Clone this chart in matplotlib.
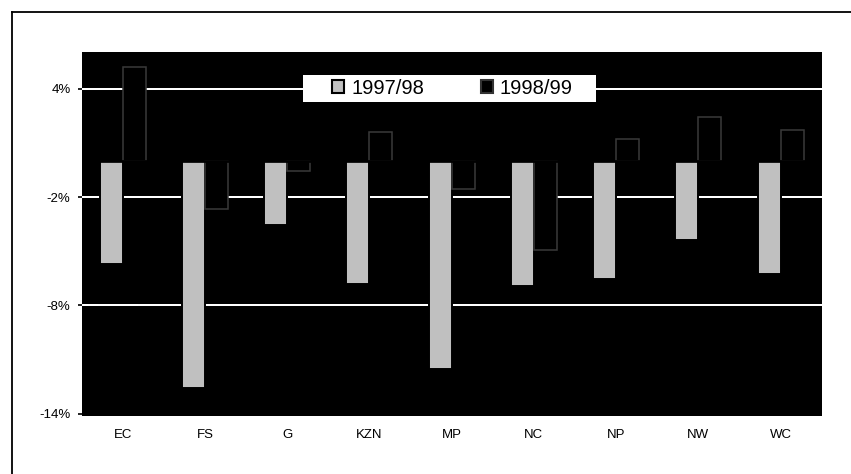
import numpy as np
import matplotlib.pyplot as plt
from matplotlib.patches import Patch, Rectangle
from matplotlib.lines import Line2D

plt.rcParams['font.family'] = ['Liberation Sans', 'DejaVu Sans']

################# Data
provinces = ["EC", "FS", "G", "KZN", "MP", "NC", "NP", "NW", "WC"]
growth_9798 = [-5.7, -12.55, -3.55, -6.8, -11.55, -6.9, -6.55, -4.35, -6.25]
growth_9899 = [5.2, -2.65, -0.55, 1.6, -1.55, -4.95, 1.2, 2.45, 1.7]
yticks = [-14, -8, -2, 4]
ytick_labels = ["-14%", "-8%", "-2%", "4%"]
series_names = ["1997/98", "1998/99"]

x = np.arange(len(provinces))
w = 0.28

fig = plt.figure(figsize=(8.51, 4.74), dpi=100)
ax = fig.add_axes([81.7/851, 1-415.5/474, 740/851, 363.8/474])
ax.set_facecolor("black")

# white gridlines behind the bars
for yv in yticks[1:]:
    ax.axhline(yv, color="white", lw=1.45, zorder=1)

ax.bar(x - w/2, growth_9798, w, color="#c0c0c0", edgecolor="black", lw=1.4, zorder=2)
ax.bar(x + w/2, growth_9899, w, color="black", edgecolor="#3a3a3a", lw=1.1, zorder=2)
# category axis crossing at zero (black on black)
ax.axhline(0, color="black", lw=1.95, zorder=3)

ax.set_xlim(-0.5, len(provinces) - 0.5)
ax.set_ylim(-14.1, 6.06)
ax.set_yticks(yticks)
ax.set_yticklabels(ytick_labels)
ax.set_xticks(x)
ax.set_xticklabels(provinces)
ax.tick_params(axis="y", length=3, width=1.2, pad=5, labelsize=9.5, colors="black")
ax.tick_params(axis="x", length=0, pad=10, labelsize=9.5)
for s in ax.spines.values():
    s.set_visible(False)

# legend on a white box
ax.add_patch(Rectangle((0.2986, 0.8625), 0.3964, 0.0735, transform=ax.transAxes,
                       facecolor="white", edgecolor="none", zorder=4, clip_on=False))
handles = [Patch(facecolor="#c0c0c0", edgecolor="black", lw=1.5),
           Patch(facecolor="black", edgecolor="#333333", lw=1.5)]
leg = ax.legend(handles, series_names, ncol=2, loc="center", bbox_to_anchor=(0.501, 0.899),
                frameon=False, fontsize=14.5, handlelength=0.6, handleheight=0.6,
                handletextpad=0.35, columnspacing=2.8, borderpad=0.1)
leg.set_zorder(5)

# outer frame (top and left edges)
fig.add_artist(Line2D([11.7/851, 1], [1-11.7/474, 1-11.7/474], color="black", lw=1.3))
fig.add_artist(Line2D([11.7/851, 11.7/851], [0, 1-11.7/474], color="black", lw=1.3))

plt.savefig("out.png", dpi=100)
